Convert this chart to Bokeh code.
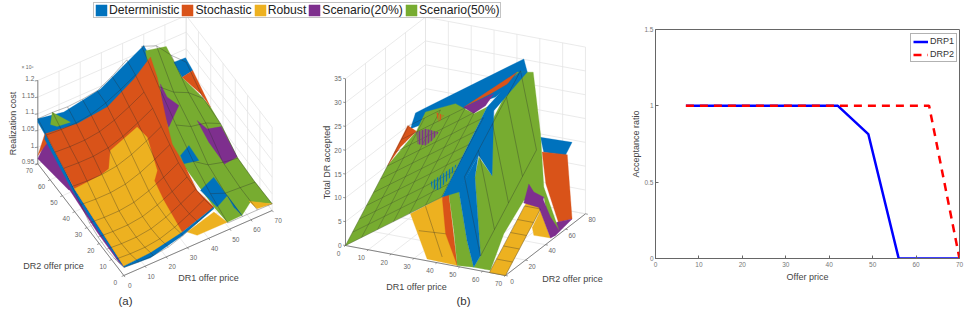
import math
from bokeh.plotting import figure
from bokeh.layouts import row, column
from bokeh.models import Legend, LegendItem, FixedTicker, Range1d, Label
from bokeh.core.properties import value
from bokeh.embed import file_html
from bokeh.resources import INLINE

strategies = ["Deterministic", "Stochastic", "Robust", "Scenario(20%)", "Scenario(50%)"]
strategy_colors = ["#0072BD", "#D95319", "#EDB120", "#7E2F8E", "#77AC30"]
COL = dict(zip(strategies, strategy_colors))
FONT = "Liberation Sans"
NaN = float("nan")

# ---------- axis ticks ----------
a_dr_ticks = [0, 10, 20, 30, 40, 50, 60, 70]
a_cost_ticks = [0.95, 1.0, 1.05, 1.1, 1.15, 1.2]
a_cost_labels = ["0.95", "1", "1.05", "1.1", "1.15", "1.2"]
b_dr1_ticks = [0, 10, 20, 30, 40, 50, 60, 70]
b_dr2_ticks = [0, 20, 40, 60, 80]
b_total_ticks = [0, 5, 10, 15, 20, 25, 30, 35]

# ---------- panel (a): visible surface pieces (DR1 price, DR2 price, cost in 1e6) ----------
a_purple_left = [(0, 70, .965), (0, 63, 1.055), (.75, 42, 1.004), (.1, 45, .991)]
a_purple_band = [(0, 44.8, .996), (0, 21.7, .976), (0, 4.1, .970), (.3, 0, .974), (0, 20.3, .988), (0, 42.3, 1.008)]
a_blue_band = [(0, 63.8, 1.07), (0, 64.5, 1.051), (0, 42.3, 1.005), (0, 20.3, .983), (0, 2.2, .975), (.3, 0, .974),
               (0, 18.4, .997), (0, 40.2, 1.018)]
a_orange_left = [(0, 70, .975), (0, 63.8, 1.075), (1, 63, 1.05)]
a_blue_back = [(0, 70, 1.085), (12.3, 70, 1.071), (29.6, 70, 1.092), (40.6, 70, 1.132), (50, 70, 1.166),
               (53.5, 70, 1.116), (45.3, 70, 1.054), (32.7, 70, 1.009), (18.6, 70, .998), (3.6, 70, 1.025),
               (0, 70, 1.075)]
a_green_left = [(6, 70, 1.051), (6.8, 70, 1.086), (15.4, 70, 1.032), (9.1, 70, 1.037)]
a_green_right = [(50.8, 70, 1.148), (60.6, 70, 1.133), (68.1, 70, 1.02), (70, 58, 1.017), (70, 50.2, 1.02),
                 (70, 40.7, 1.007), (70, 28.5, .974), (70, 14.9, .969), (70, 0, .97), (63.8, 7, .959),
                 (55.8, 0, .975), (48.8, 0, .974), (42.5, 0, 1.037), (37.6, 35, 1.103)]
a_blue_tip = [(64.2, 70, 1.076), (69.7, 70, 1.074), (70, 64.6, 1.061), (68.1, 70, 1.02)]
a_orange_back = [(68.1, 70, 1.02), (70, 64.6, 1.061), (70, 50.2, 1.02), (70, 58, 1.022)]
a_purple_right = [(63, 49, 1.005), (63.7, 42, 1.011), (70, 41.5, 1.003), (70, 28.5, .974), (59.7, 21, 1.018), (60.4, 35, 1.014)]
a_blue_small = [(38.9, 21, 1.101), (42.9, 21, 1.12), (47.6, 21, 1.062), (40.5, 21, 1.072)]
a_blue_lower = [(40.2, 7, 1.06), (46.5, 7, 1.082), (52.8, 7, 1.009), (48.1, 7, .988)]
a_blue_sliver = [(48.8, 0, 1.054), (55.8, 0, .975), (51.9, 0, 1.01)]
a_yellow_tip = [(59, 0, 1.009), (70, 0, .97), (62.9, 0, .975)]
a_yellow_lower = [(29.9, 0, .997), (42.5, 0, 1.022), (48.8, 0, .974), (34.6, 0, .974)]
a_purple_mid = [(45.7, 49, 1.163), (48.8, 49, 1.115), (54.4, 49, 1.074), (49.6, 49, 1.022), (47.3, 49, 1.069), (46, 49, 1.122)]
a_stochastic = [(0, 63.8, 1.07), (14.5, 63, 1.063), (28.7, 63, 1.074), (41.3, 63, 1.123), (49.1, 63, 1.167),
                (48.2, 56, 1.143), (44.8, 42, 1.079), (43.1, 35, 1.057), (44.5, 28, 1.027), (42.7, 14, 1.019),
                (42.5, 0, 1.037), (27.5, 0, 1.003), (0, 0, .978), (0, 40.2, 1.018)]
a_robust = [(0, 40.2, 1.018), (9.3, 35, 1.057), (13.2, 35, 1.066), (18, 42, 1.074), (34.7, 49, 1.064), (35.4, 42, 1.065),
            (32, 28, 1.042), (26.6, 21, 1.06), (27, 14, 1.033), (27.5, 0, 1.003), (17.3, 0, .982), (0, 0, .978), (0, 18.4, .997)]
a_edge_sliver = [(.3, 0, .974), (12.6, 0, .968), (27.5, 0, .993), (42.5, 0, 1.032), (42.5, 0, 1.037), (27.5, 0, 1.003),
                 (12.6, 0, .983), (0, 0, .978)]

a_pieces = [("Scenario(20%)", a_purple_left), ("Stochastic", a_orange_left), ("Deterministic", a_blue_back),
            ("Scenario(50%)", a_green_left), ("Scenario(50%)", a_green_right), ("Deterministic", a_blue_tip),
            ("Stochastic", a_orange_back), ("Scenario(20%)", a_purple_right), ("Deterministic", a_blue_small),
            ("Deterministic", a_blue_lower), ("Deterministic", a_blue_sliver), ("Robust", a_yellow_tip),
            ("Robust", a_yellow_lower), ("Scenario(20%)", a_purple_mid), ("Scenario(20%)", a_purple_band),
            ("Deterministic", a_blue_band), ("Stochastic", a_stochastic), ("Robust", a_robust),
            ("Deterministic", a_edge_sliver)]

# mesh of the low-price part: rows DR2 = 0,7..70, columns DR1 = 0,7..42
a_mesh_left_x = [0, 7, 14, 21, 28, 35, 42]
a_mesh_left_y = [0, 7, 14, 21, 28, 35, 42, 49, 56, 63, 70]
a_mesh_left = [
    [.974, .971, .971, .977, .992, 1.013, 1.037],
    [.965, .962, .962, .968, .983, 1.004, 1.028],
    [.962, .959, .959, .965, .980, 1.001, 1.025],
    [.965, .962, .962, .968, .983, 1.004, 1.028],
    [.974, .971, .971, .977, .992, 1.013, 1.037],
    [.995, .992, .992, .998, 1.013, 1.034, 1.058],
    [1.016, 1.013, 1.013, 1.019, 1.034, 1.055, 1.079],
    [1.037, 1.034, 1.034, 1.040, 1.055, 1.076, 1.100],
    [1.052, 1.049, 1.049, 1.055, 1.070, 1.091, 1.115],
    [1.070, 1.067, 1.067, 1.073, 1.088, 1.109, 1.133],
    [1.085, 1.085, 1.082, 1.085, 1.091, 1.115, 1.145],
]
a_mesh_right_x = [49, 56, 63, 70]
a_mesh_right_y = [0, 14, 28, 42, 56, 70]
a_mesh_right = [
    [.971, .971, .971, .97],
    [.992, .974, .971, .968],
    [1.022, .992, .98, .973],
    [1.064, 1.04, 1.031, 1.01],
    [1.112, 1.076, 1.055, 1.018],
    [1.166, 1.148, 1.1, 1.06],
]

# ---------- panel (b): visible surface pieces (DR1 price, DR2 price, total DR) ----------
b_blue_back = [(54.7, 70, 16.3), (68.5, 70, 16.5), (65.6, 70, 13.5), (56.1, 70, 13.3)]
b_orange_back = [(55.4, 70, 13.3), (66.4, 70, 13.7), (68.5, 70, .4), (66.9, 60, 1.2), (61.4, 60, 8.8)]
b_purple_floor = [(66.1, 60, 1.1), (68.5, 70, .4), (70, 50, .3), (70, 45, .6)]
b_yellow_right = [(64.2, 40, 3.1), (67.8, 40, 7), (70, 45, .6), (64.9, 40, 1.5)]
b_blue_top = [(0, 70, 16.5), (5.1, 70, 18.2), (47.4, 70, 32.1), (48.9, 70, 29.5), (35, 70, 23), (0, 65, 14)]
b_orange_top = [(25.5, 60, 21.6), (48.9, 60, 31.1), (44.5, 60, 28.2), (37.2, 60, 25.5)]
b_purple_top = [(25.5, 60, 21.6), (38.6, 60, 25.6), (35, 60, 22.8), (29.6, 60, 20.6)]
b_green_right = [(51, 30, 14.4), (46.7, 40, 24), (48.9, 60, 31.1), (51.5, 70, 29.7), (54.7, 70, 17), (62.7, 55, 9),
                 (69.3, 55, .6), (70, 45, 1.8), (69.3, 40, 9.9), (60.5, 40, 8.4), (64.9, 10, 6.7), (63.4, 0, .5),
                 (56.1, 0, .5), (56.9, 5, 2.2), (43.5, 30, 13.4), (45.2, 30, 17.8)]
b_yellow_left = [(28.4, 0, 9.2), (42.3, 0, 14), (48.9, 0, .2), (35.7, 0, .4)]
b_orange_strip = [(42.3, 0, 14), (45.2, 0, 14.9), (48.9, 0, .2), (43.8, 0, 6.4)]
b_green_lower = [(45.2, 0, 14.9), (47.4, 5, 15), (51, 5, 4.8), (56.1, 0, .5), (48.9, 0, .2), (47.4, 0, 7.4)]
b_blue_strip = [(47.4, 5, 15), (44.9, 30, 17.9), (43.5, 30, 13.4), (56.9, 5, 2.2), (56.1, 0, .5), (51, 5, 4.8)]
b_plane = [(0, 0, 0), (42.3, 0, 14), (40.8, 48.4, 24.9), (35, 48.4, 23), (20.9, 62.2, 21.6), (5.7, 67, 17.7),
           (3.9, 62, 14.3), (0, 42.3, 10)]
b_orange_left = [(0, 42.3, 10), (0, 62.3, 15.1), (3.9, 62, 14.3), (2.2, 50, 12.8)]
b_blue_ridge = [(42.3, 0, 14), (40.8, 48.4, 24.9), (49.6, 60, 31.1), (48.9, 70, 29.5), (47.4, 40, 26.1), (51, 30, 14.4),
                (45.2, 30, 18.1), (45.2, 25, 17.2), (47.4, 5, 14.7)]
b_yellow_strip = [(63, 0, 0), (70, 0, 0), (70, 37, 8.7), (63, 37, 8.7)]
b_purple_block = [(60.5, 40, 7.9), (62.7, 40, 12.1), (64.9, 40, 10.6), (69.3, 40, 9.9), (67.8, 40, 7.5)]
b_purple_strip = [(68.6, 40, 9.8), (70, 45, 5), (69.3, 55, .6), (70, 45, .6), (69.3, 40, 5), (67.1, 40, 7.6)]
b_tuft_a = [(13.6, 40, 18.5), (17.5, 40, 19.6), (23.3, 40, 19.4), (20.4, 40, 17.4), (17.5, 40, 16.1), (13.9, 40, 16.1)]
b_tuft_b = [(19.7, 40, 8.6), (31.4, 40, 13.5), (28.4, 40, 10.4), (23.3, 40, 7.2), (20.4, 40, 7.3)]
b_tuft_c = [(21.9, 40, 23.5), (25.5, 40, 23.1), (23.3, 40, 21.5)]

b_pieces = [("Deterministic", b_blue_back), ("Stochastic", b_orange_back), ("Scenario(20%)", b_purple_floor),
            ("Robust", b_yellow_right), ("Deterministic", b_blue_top), ("Stochastic", b_orange_top),
            ("Scenario(20%)", b_purple_top), ("Scenario(50%)", b_green_right), ("Robust", b_yellow_left),
            ("Stochastic", b_orange_strip), ("Scenario(50%)", b_green_lower), ("Deterministic", b_blue_strip),
            ("Scenario(50%)", b_plane), ("Stochastic", b_orange_left), ("Deterministic", b_blue_ridge),
            ("Robust", b_yellow_strip), ("Scenario(20%)", b_purple_block), ("Scenario(20%)", b_purple_strip)]
b_tufts = [("Scenario(20%)", b_tuft_a, .45), ("Deterministic", b_tuft_b, .2), ("Stochastic", b_tuft_c, .35)]

b_mesh_x = [0, 7, 14, 21, 28, 35, 42]
b_mesh_y = [0, 7, 14, 21, 28, 35, 42, 49, 56, 63]
b_mesh = [
    [0, 2.3, 4.6, 6.9, 9.2, 11.6, 13.9],
    [1.65, 3.95, 6.25, 8.55, 10.85, 13.25, 15.55],
    [3.3, 5.6, 7.9, 10.2, 12.5, 14.9, 17.2],
    [5, 7.3, 9.6, 11.9, 14.2, 16.6, 18.9],
    [6.6, 8.9, 11.2, 13.5, 15.8, 18.2, 20.5],
    [8.3, 10.6, 12.9, 15.2, 17.5, 19.9, 22.2],
    [9.9, 12.2, 14.5, 16.8, 19.1, 21.5, 23.8],
    [11.6, 13.9, 16.2, 18.5, 20.8, 23.2, NaN],
    [13.2, 15.5, 17.8, 20.1, 22.4, NaN, NaN],
    [14.9, 17.2, 19.5, NaN, NaN, NaN, NaN],
]
b_mesh_ridge_x = [49, 56]
b_mesh_ridge_y = [7, 21, 35, 49, 63]
b_mesh_ridge = [
    [17.7, 1.7],
    [21, 5],
    [24.3, 8.3],
    [27.6, 11.6],
    [30.9, 14.9],
]
b_mesh_strip_x = [63, 70]
b_mesh_strip_y = [0, 7, 14, 21, 28, 35]
b_mesh_strip = [
    [0, 0],
    [1.7, 1.7],
    [3.3, 3.3],
    [5, 5],
    [6.6, 6.6],
    [8.3, 8.3],
]
b_yellow_lines = [[(35, 0, 11.4), (42.3, 0, 1.4)], [(32.1, 0, 6), (43.8, 0, 6.4)]]

# ---------- panel (c) ----------
offer_price = [7, 14, 21, 28, 35, 42, 49, 56, 63, 70]
drp1_ratio = [1, 1, 1, 1, 1, 1, 0.815, 0, 0, 0]
drp2_ratio = [1, 1, 1, 1, 1, 1, 1, 1, 1, 0]
c_x_ticks = [0, 10, 20, 30, 40, 50, 60, 70]
c_y_ticks = [0, 0.5, 1, 1.5]


# ---------- projections of the two 3-D views ----------
def pa(x, y, z=0.95):
    return (370 + 6.357 * x - 3.686 * y) / 3, (825 - 2.786 * x - 4.786 * y - (z - 0.95) * 1000) / 3


def pb(x, y, z=0.0):
    return 310 + (105 + 6.857 * x + 3 * y) / 3, (735 + 1.286 * x - 2.3125 * y - 14.29 * z) / 3


p = figure(width=620, height=309, x_range=Range1d(0, 620), y_range=Range1d(309, 0), output_backend="svg",
           toolbar_location=None, min_border=0, outline_line_color=None, background_fill_color="white", margin=0)
p.axis.visible = False
p.grid.visible = False


def lines(proj, segs, color, width, alpha=1.0):
    xs, ys = [], []
    for s in segs:
        pts = [proj(*q) for q in s]
        xs.append([q[0] for q in pts])
        ys.append([q[1] for q in pts])
    p.multi_line(xs, ys, line_color=color, line_width=width, line_alpha=alpha)


def label(xs, ys, texts, size, color="#666666", align="center", angle=0.0):
    p.text(xs, ys, text=texts, text_font=value(FONT), text_font_size=value(size), text_color=color,
           text_align=align, text_baseline="middle", angle=angle)


def pieces(proj, plist, line_w=0.3):
    first = {}
    for name, verts in plist:
        pts = [proj(*v) for v in verts]
        r = p.patch([q[0] for q in pts], [q[1] for q in pts], fill_color=COL[name], line_color=COL[name],
                    line_width=line_w)
        first.setdefault(name, r)
    return first


def mesh(proj, xv, yv, tbl, color="#2b2b2b", w=0.55, alpha=0.6):
    segs = []
    for j, yy in enumerate(yv):
        segs.append([(xv[i], yy, tbl[j][i]) for i in range(len(xv))])
    for i, xx in enumerate(xv):
        segs.append([(xx, yv[j], tbl[j][i]) for j in range(len(yv))])
    lines(proj, segs, color, w, alpha)


WALL = "#e4e4e4"
AX = "#6a6a6a"

# ----- panel (a) walls and axes
wall = []
for t in a_dr_ticks:
    wall.append([(t, 70, .95), (t, 70, 1.2)])
    wall.append([(70, t, .95), (70, t, 1.2)])
    wall.append([(t, 0, .95), (t, 70, .95)])
    wall.append([(0, t, .95), (70, t, .95)])
for c_ in a_cost_ticks:
    wall.append([(0, 70, c_), (70, 70, c_), (70, 0, c_)])
lines(pa, wall, WALL, 0.8)
lines(pa, [[(0, 70, 1.2), (0, 70, .95), (0, 0, .95), (70, 0, .95)]], AX, 0.8)
lines(pa, [[(0, t, .95), (-1, t, .95)] for t in a_dr_ticks] + [[(t, 0, .95), (t, -1, .95)] for t in a_dr_ticks] +
      [[(0, 70, c_), (-1.2, 70.4, c_)] for c_ in a_cost_ticks], AX, 0.7)
handles = pieces(pa, a_pieces)
mesh(pa, a_mesh_left_x, a_mesh_left_y, a_mesh_left)
mesh(pa, a_mesh_right_x, a_mesh_right_y, a_mesh_right)

tx, ty = zip(*[pa(0, t) for t in a_dr_ticks])
label([v - 8.5 for v in tx], [v + 7 for v in ty], [str(t) for t in a_dr_ticks], "6.5px")
tx, ty = zip(*[pa(t, 0) for t in a_dr_ticks])
label([v + 6 for v in tx], [v + 10 for v in ty], [str(t) for t in a_dr_ticks], "6.5px")
tx, ty = zip(*[pa(0, 70, c_) for c_ in a_cost_ticks])
label([v - 3.5 for v in tx], [v - 2 for v in ty], a_cost_labels, "6.5px", align="right")
label([27], [66], ["× 10⁶"], "5px")
label([53], [265], ["DR2 offer price"], "9px", "#444444")
label([208], [277], ["DR1 offer price"], "9px", "#444444")
label([12], [123], ["Realization cost"], "9px", "#444444", angle=math.pi / 2)
label([125], [300], ["(a)"], "11.5px", "#333333")

# ----- panel (b) walls and axes
wall = []
for t in b_dr1_ticks:
    wall.append([(t, 80, 0), (t, 80, 35)])
    wall.append([(t, 0, 0), (t, 80, 0)])
for t in b_dr2_ticks:
    wall.append([(0, t, 0), (0, t, 35)])
    wall.append([(0, t, 0), (70, t, 0)])
for c_ in b_total_ticks:
    wall.append([(0, 0, c_), (0, 80, c_), (70, 80, c_)])
lines(pb, wall, WALL, 0.8)
lines(pb, [[(0, 0, 35), (0, 0, 0), (70, 0, 0), (70, 80, 0)]], AX, 0.8)
lines(pb, [[(t, 0, 0), (t, -1.5, 0)] for t in b_dr1_ticks] + [[(70, t, 0), (71, t, 0)] for t in b_dr2_ticks] +
      [[(0, 0, c_), (-1, 0, c_)] for c_ in b_total_ticks], AX, 0.7)
more = pieces(pb, b_pieces)
for k, v in more.items():
    handles.setdefault(k, v)
mesh(pb, b_mesh_x, b_mesh_y, b_mesh, alpha=0.5)
mesh(pb, b_mesh_ridge_x, b_mesh_ridge_y, b_mesh_ridge)
mesh(pb, b_mesh_strip_x, b_mesh_strip_y, b_mesh_strip)
lines(pb, b_yellow_lines, "#2b2b2b", 0.55, 0.6)
for name, verts, alpha in b_tufts:
    pts = [pb(*v) for v in verts]
    p.patch([q[0] for q in pts], [q[1] for q in pts], fill_color=COL[name], fill_alpha=alpha, line_color=None,
            hatch_pattern="vertical_line", hatch_color=COL[name], hatch_scale=3, hatch_weight=1, hatch_alpha=0.9)

tx, ty = zip(*[pb(t, 0) for t in b_dr1_ticks])
label([v - 7 for v in tx], [v + 8 for v in ty], [str(t) for t in b_dr1_ticks], "6.5px")
tx, ty = zip(*[pb(70, t) for t in b_dr2_ticks])
label([v + 6.5 for v in tx], [v + 6 for v in ty], [str(t) for t in b_dr2_ticks], "6.5px")
tx, ty = zip(*[pb(0, 0, c_) for c_ in b_total_ticks])
label([v - 4 for v in tx], ty, [str(c_) for c_ in b_total_ticks], "6.5px", align="right")
label([416], [286], ["DR1 offer price"], "9px", "#444444")
label([572], [278], ["DR2 offer price"], "9px", "#444444")
label([326], [162], ["Total DR accepted"], "9px", "#444444", angle=math.pi / 2)
label([463], [300], ["(b)"], "11.5px", "#333333")

legend = Legend(items=[LegendItem(label=s, renderers=[handles[s]]) for s in strategies], orientation="horizontal",
                location=(93, 291), label_text_font=FONT, label_text_font_size="12.2px", label_text_color="#222222",
                glyph_width=14, glyph_height=14, label_standoff=1, spacing=1, padding=0, margin=0,
                border_line_color="#888888", border_line_width=1, background_fill_alpha=1,
                label_height=14, label_text_line_height=1.0)
p.add_layout(legend, "center")

# ----- panel (c)
c = figure(width=349, height=309, x_range=Range1d(0, 70), y_range=Range1d(0, 1.5), output_backend="svg",
           toolbar_location=None, min_border_left=35, min_border_right=10, min_border_top=29, min_border_bottom=51,
           outline_line_color="#666666", margin=0)
c.grid.visible = False
l1 = c.line(offer_price, drp1_ratio, line_color="#0000FF", line_width=2.5)
l2 = c.line(offer_price, drp2_ratio, line_color="#FF0000", line_width=2.5, line_dash="8 6")
for ax, ticks in ((c.xaxis[0], c_x_ticks), (c.yaxis[0], c_y_ticks)):
    ax.ticker = FixedTicker(ticks=ticks)
    ax.major_tick_in = 3
    ax.major_tick_out = 0
    ax.minor_tick_line_color = None
    ax.axis_line_color = "#666666"
    ax.major_tick_line_color = "#666666"
    ax.major_label_text_font = FONT
    ax.major_label_text_font_size = "6.5px"
    ax.major_label_text_color = "#777777"
    ax.axis_label_text_font = FONT
    ax.axis_label_text_font_size = "9px"
    ax.axis_label_text_font_style = "normal"
    ax.axis_label_text_color = "#444444"
c.yaxis[0].major_label_overrides = {0: "0", 1: "1", 0.5: "0.5", 1.5: "1.5"}
c.xaxis[0].axis_label = "Offer price"
c.yaxis[0].axis_label = "Acceptance ratio"
c.xaxis[0].axis_label_standoff = 2
c.yaxis[0].axis_label_standoff = 0
c.xaxis[0].major_label_standoff = 3
c.yaxis[0].major_label_standoff = 2
c.add_layout(Legend(items=[LegendItem(label="DRP1", renderers=[l1]), LegendItem(label="DRP2", renderers=[l2])],
                    location=(255, 196), label_text_font=FONT, label_text_font_size="9px",
                    label_text_color="#333333", glyph_width=15, glyph_height=9, label_standoff=2, spacing=3,
                    padding=2, margin=0, border_line_color="#666666", label_height=9), "center")
c.add_layout(Label(x=30.3, y=-43, y_units="screen", x_units="data", text="(c)", text_font=FONT,
                   text_font_size="11.5px", text_color="#333333", text_align="center", text_baseline="middle"))

page = row(column(p, margin=0), column(c, margin=0), margin=0, spacing=0)
open("out.html", "w").write(file_html(page, INLINE))
